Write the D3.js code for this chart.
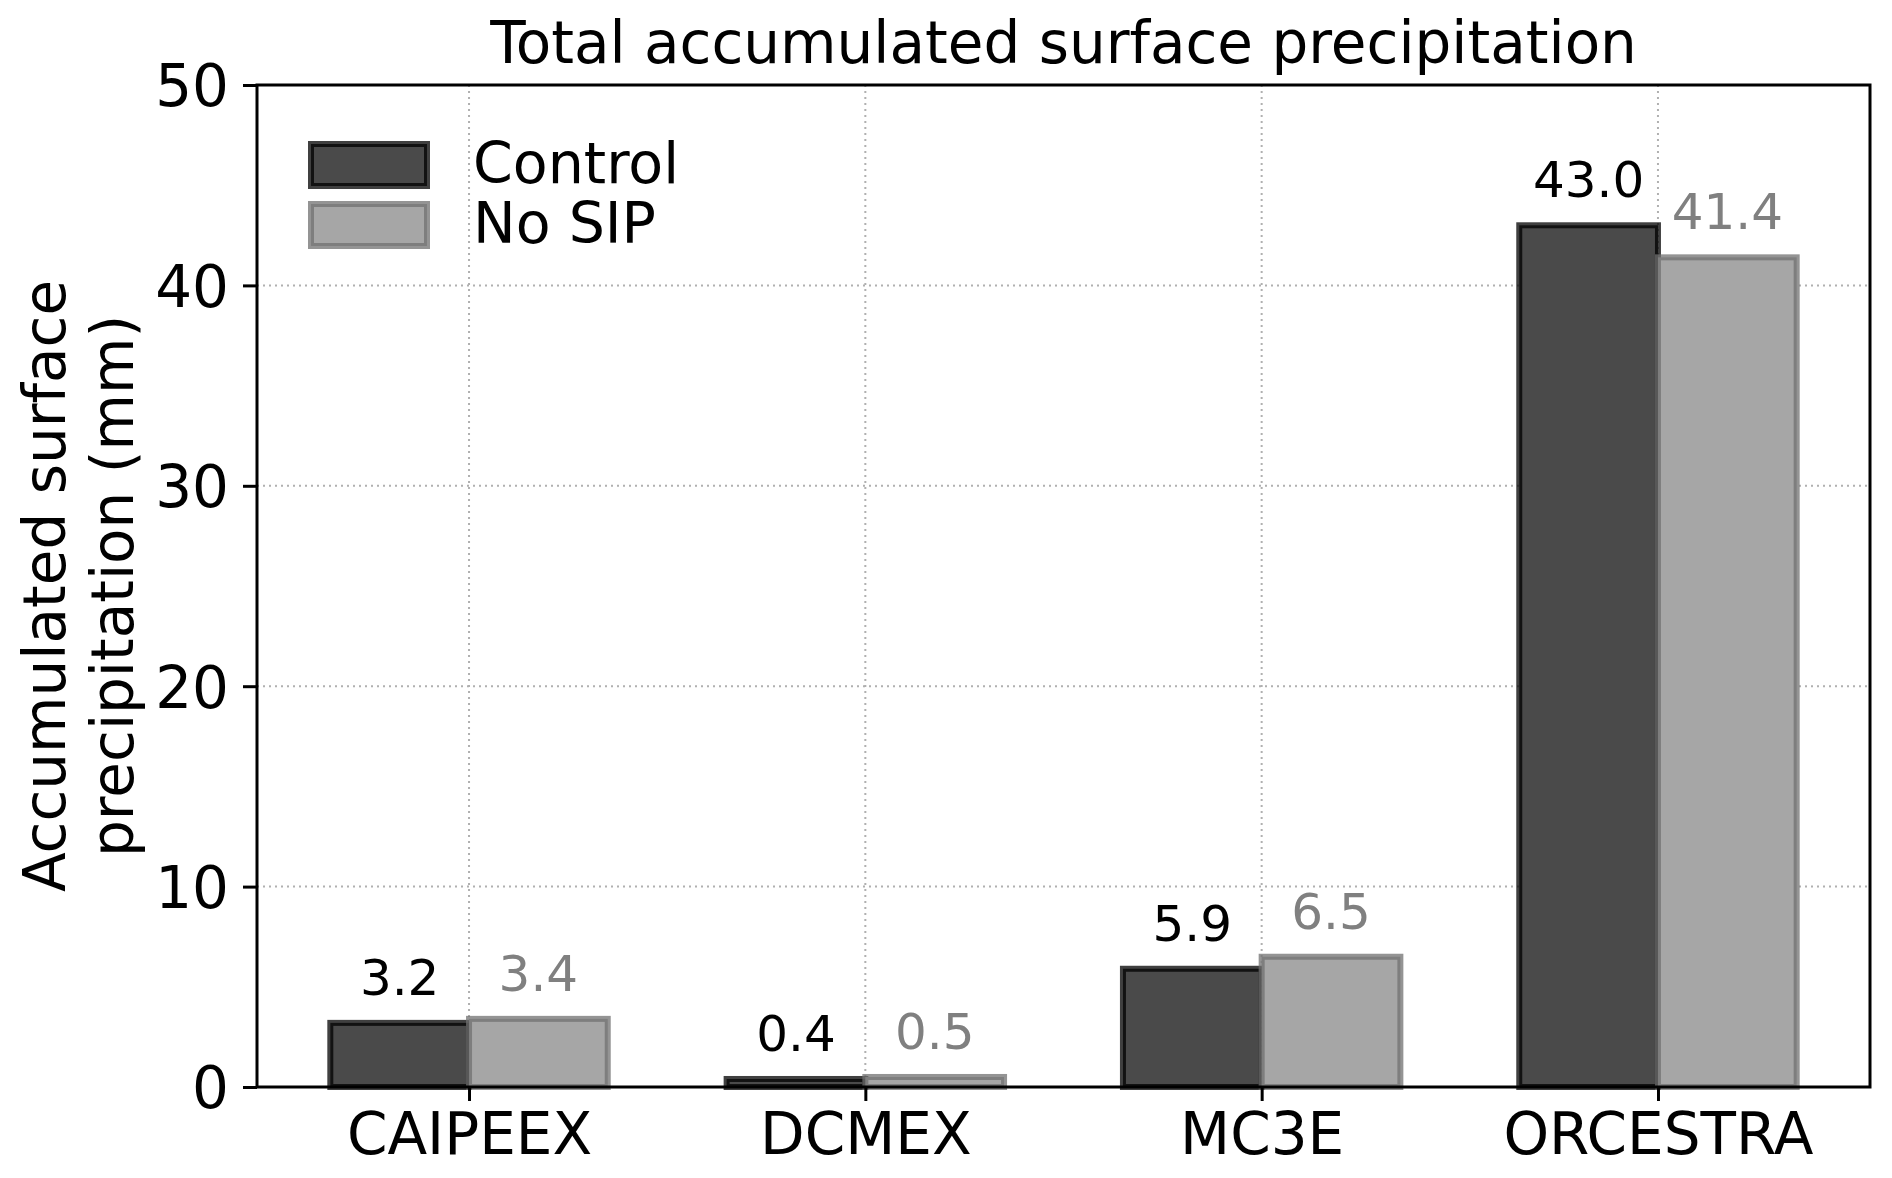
<!DOCTYPE html>
<html>
<head>
<meta charset="utf-8">
<script src="https://cdn.jsdelivr.net/npm/d3@7"></script>
<style>
  body { margin: 0; background: #fff; }
  svg { display: block; font-family: "DejaVu Sans", sans-serif; }
</style>
</head>
<body>
<div id="chart"></div>
<script>
// data
const campaigns = ["CAIPEEX", "DCMEX", "MC3E", "ORCESTRA"];
const controlVals = [3.2, 0.4, 5.9, 43.0];
const noSipVals = [3.4, 0.5, 6.5, 41.4];
const seriesNames = ["Control", "No SIP"];
const yTicks = [0, 10, 20, 30, 40, 50];

const width = 1892, height = 1178;
const margin = {top: 85, left: 257, right: 22, bottom: 91};
const plotW = width - margin.left - margin.right;
const plotH = height - margin.top - margin.bottom;
const barW = 0.35;

const svg = d3.select("#chart").append("svg")
    .attr("width", width)
    .attr("height", height);

/***** scales *****/
const xScale = d3.scaleLinear()
    .domain([-barW - 0.185, campaigns.length - 1 + barW + 0.185])
    .range([0, plotW]);
const yScale = d3.scaleLinear()
    .domain([0, 50])
    .range([plotH, 0]);

const plot = svg.append("g")
    .attr("transform", `translate(${margin.left}, ${margin.top})`);

/***** grid *****/
plot.append("g")
    .selectAll("line.yg")
    .data(yTicks.slice(1, -1))
    .join("line")
    .attr("x1", 0).attr("x2", plotW)
    .attr("y1", d => yScale(d)).attr("y2", d => yScale(d))
    .attr("stroke", "#b0b0b0").attr("stroke-width", 2)
    .attr("stroke-dasharray", "2,4");

plot.append("g")
    .selectAll("line.xg")
    .data(campaigns.map((c, i) => i))
    .join("line")
    .attr("x1", d => xScale(d)).attr("x2", d => xScale(d))
    .attr("y1", 0).attr("y2", plotH)
    .attr("stroke", "#b0b0b0").attr("stroke-width", 2)
    .attr("stroke-dasharray", "2,4");

/***** bars *****/
const series = [
    {name: seriesNames[0], vals: controlVals, off: -barW, fill: "#4a4a4a", stroke: "#000", label: "#000"},
    {name: seriesNames[1], vals: noSipVals, off: 0, fill: "#a6a6a6", stroke: "#707070", label: "#808080"}
];

series.forEach(s => {
    plot.append("g")
        .selectAll("rect")
        .data(s.vals)
        .join("rect")
        .attr("x", (d, i) => xScale(i + s.off))
        .attr("y", d => yScale(d))
        .attr("width", xScale(barW) - xScale(0))
        .attr("height", d => yScale(0) - yScale(d))
        .attr("fill", s.fill)
        .attr("stroke", s.stroke)
        .attr("stroke-opacity", 0.75)
        .attr("stroke-width", 6);
});

// value labels
series.forEach(s => {
    plot.append("g")
        .selectAll("text")
        .data(s.vals)
        .join("text")
        .attr("x", (d, i) => xScale(i + s.off + barW / 2))
        .attr("y", d => yScale(d) - 28)
        .attr("text-anchor", "middle")
        .attr("fill", s.label)
        .style("font-size", "50px")
        .text(d => d3.format(".1f")(d));
});

/***** axes *****/
const xAxis = plot.append("g")
    .attr("transform", `translate(0, ${plotH})`)
    .call(d3.axisBottom(xScale)
        .tickValues(campaigns.map((c, i) => i))
        .tickFormat(i => campaigns[i])
        .tickSize(14)
        .tickPadding(12));

const yAxis = plot.append("g")
    .call(d3.axisLeft(yScale)
        .tickValues(yTicks)
        .tickFormat(d3.format("d"))
        .tickSize(14)
        .tickPadding(14));

[xAxis, yAxis].forEach(ax => {
    ax.select(".domain").remove();
    ax.selectAll(".tick line").attr("stroke", "#000").attr("stroke-width", 3);
    ax.selectAll(".tick text")
        .attr("fill", "#000")
        .style("font-family", "DejaVu Sans, sans-serif")
        .style("font-size", "58px");
});
yAxis.selectAll(".tick text").attr("dy", "0.36em");

// frame
plot.append("rect")
    .attr("width", plotW).attr("height", plotH)
    .attr("fill", "none")
    .attr("stroke", "#000")
    .attr("stroke-width", 3);

/***** legend *****/
const legend = plot.append("g")
    .attr("transform", "translate(51, 56)");

legend.selectAll("rect")
    .data(series)
    .join("rect")
    .attr("x", 3).attr("y", (d, i) => i * 60 + 3)
    .attr("width", 116).attr("height", 42)
    .attr("fill", d => d.fill)
    .attr("stroke", d => d.stroke)
    .attr("stroke-opacity", 0.75)
    .attr("stroke-width", 6);

legend.selectAll("text")
    .data(series)
    .join("text")
    .attr("x", 165)
    .attr("y", (d, i) => i * 60 + 42)
    .attr("fill", "#000")
    .style("font-size", "57px")
    .text(d => d.name);

/***** title, y label *****/
svg.append("text")
    .attr("x", margin.left + plotW / 2)
    .attr("y", 63)
    .attr("text-anchor", "middle")
    .style("font-size", "58px")
    .text("Total accumulated surface precipitation");

const yLab = svg.append("text")
    .attr("transform", `translate(0, ${margin.top + plotH / 2}) rotate(-90)`)
    .attr("text-anchor", "middle")
    .style("font-size", "58px");
yLab.append("tspan").attr("x", 0).attr("y", 65).text("Accumulated surface");
yLab.append("tspan").attr("x", 0).attr("y", 133).text("precipitation (mm)");
</script>
</body>
</html>
